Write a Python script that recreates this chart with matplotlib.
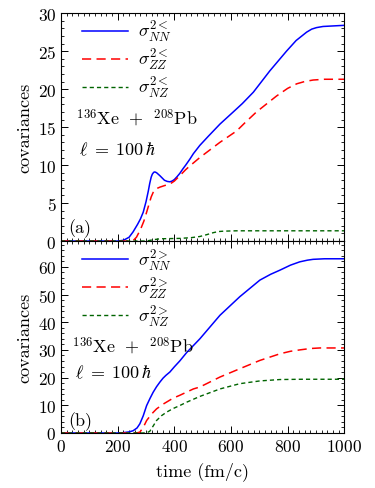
import matplotlib
matplotlib.use("Agg")
import matplotlib.pyplot as plt
from matplotlib.ticker import MultipleLocator

plt.rcParams["font.family"] = "serif"
plt.rcParams["font.serif"] = ["cmr10"]
plt.rcParams["mathtext.fontset"] = "cm"
plt.rcParams["axes.formatter.use_mathtext"] = True
plt.rcParams["font.size"] = 13
plt.rcParams["xtick.labelsize"] = 12.5
plt.rcParams["ytick.labelsize"] = 12.5

# panel (a): sigma^2< vs time
t_nn_a = [0, 200, 220, 240, 254, 270, 280, 290, 300, 308, 313, 318, 322, 327, 331, 337, 343, 349, 357,
          365, 375, 384, 392, 400, 410, 419, 430, 440, 455, 467, 490, 520, 561, 608, 640, 679, 737, 796,
          830, 867, 885, 902, 925, 950, 1000]
nn_a = [0, 0, 0.1, 0.5, 1.2, 2.2, 2.9, 3.8, 5.2, 6.6, 7.6, 8.4, 8.8, 9.05, 9.1, 9.0, 8.8, 8.6, 8.3,
        8.0, 7.85, 7.8, 7.9, 8.1, 8.5, 8.9, 9.5, 10.0, 10.8, 11.5, 12.6, 13.8, 15.4, 17.0, 18.1, 19.6,
        22.4, 25.0, 26.4, 27.5, 27.9, 28.1, 28.25, 28.3, 28.4]
t_zz_a = [0, 250, 258, 266, 280, 292, 302, 310, 318, 325, 333, 340, 349, 365, 384, 400, 419, 440, 455,
          490, 561, 620, 650, 690, 761, 800, 832, 860, 890, 930, 1000]
zz_a = [0, 0, 0.2, 0.5, 1.5, 2.6, 3.8, 4.8, 5.8, 6.4, 6.8, 6.95, 7.1, 7.3, 7.5, 7.9, 8.6, 9.4, 9.9,
        11.0, 13.0, 14.5, 15.6, 17.0, 19.1, 20.1, 20.7, 21.0, 21.2, 21.3, 21.3]
t_nz_a = [0, 300, 330, 350, 419, 460, 490, 515, 537, 555, 573, 600, 620, 1000]
nz_a = [0, 0, 0.2, 0.3, 0.35, 0.45, 0.6, 0.85, 1.1, 1.25, 1.3, 1.33, 1.35, 1.35]

# panel (b): sigma^2> vs time
t_nn_b = [0, 200, 219, 240, 254, 268, 278, 290, 302, 314, 325, 337, 349, 360, 370, 384, 400, 419, 443,
          490, 561, 631, 702, 740, 773, 810, 843, 870, 890, 930, 1000]
nn_b = [0, 0, 0.1, 0.4, 0.8, 1.8, 3.3, 6.2, 9.9, 12.5, 14.7, 16.7, 18.4, 19.8, 20.8, 22.0, 23.9, 26.0,
        29.0, 34.0, 42.5, 49.2, 55.2, 57.3, 58.8, 60.6, 61.8, 62.4, 62.7, 62.9, 62.9]
t_zz_b = [0, 260, 270, 278, 290, 302, 320, 337, 360, 396, 419, 467, 490, 561, 631, 702, 773, 810, 843,
          880, 914, 1000]
zz_b = [0, 0, 0.1, 0.3, 2.0, 4.5, 6.9, 8.7, 10.4, 12.6, 13.6, 15.9, 16.6, 20.2, 23.2, 26.2, 28.6, 29.5,
        30.0, 30.5, 30.7, 30.7]
t_nz_b = [0, 290, 305, 313, 325, 337, 354, 372, 395, 419, 443, 490, 561, 631, 702, 773, 850, 1000]
nz_b = [0, 0, 0.2, 0.6, 2.5, 4.5, 6.2, 7.5, 8.8, 9.9, 11.1, 13.2, 15.9, 17.8, 18.8, 19.3, 19.4, 19.4]

fig = plt.figure(figsize=(3.75, 4.89), dpi=100)
ax1 = fig.add_axes([0.163, 0.505, 0.755, 0.466])
ax2 = fig.add_axes([0.163, 0.1125, 0.755, 0.3925])


def style_axis(ax, major, minor):
    ax.set_xlim(0, 1000)
    ax.xaxis.set_major_locator(MultipleLocator(200))
    ax.xaxis.set_minor_locator(MultipleLocator(20))
    ax.yaxis.set_major_locator(MultipleLocator(major))
    ax.yaxis.set_minor_locator(MultipleLocator(minor))
    ax.tick_params(which="both", direction="in", top=True, right=True)
    ax.tick_params(which="major", length=5, width=0.7)
    ax.tick_params(which="minor", length=2.5, width=0.6)
    for s in ax.spines.values():
        s.set_linewidth(0.8)
    ax.set_ylabel("covariances", labelpad=4)


def draw(ax, sup, data, anchor_y):
    (tn, n), (tz, z), (tx, x) = data
    ax.plot(tn, n, color="#0000ff", lw=1.1, label=r"$\sigma^{2%s}_{NN}$" % sup)
    ax.plot(tz, z, color="#ff0000", lw=1.1, ls=(0, (6, 3.5)), label=r"$\sigma^{2%s}_{ZZ}$" % sup)
    ax.plot(tx, x, color="#006400", lw=1.0, ls=(0, (3, 2.2)), label=r"$\sigma^{2%s}_{NZ}$" % sup)
    ax.legend(loc="upper left", frameon=False, handlelength=2.6, labelspacing=0.16,
              borderpad=0, borderaxespad=0, handletextpad=0.55,
              bbox_to_anchor=(0.072, anchor_y))


xe_label = r"$^{136}\mathrm{Xe}\;\,+\;\,^{208}\mathrm{Pb}$"
ell_label = r"$\ell\;=\;100\,\hbar$"

draw(ax1, "<", [(t_nn_a, nn_a), (t_zz_a, zz_a), (t_nz_a, nz_a)], 0.974)
style_axis(ax1, 5, 1)
ax1.set_ylim(0, 30)
ax1.tick_params(labelbottom=False)
ax1.text(0.054, 0.544, xe_label, transform=ax1.transAxes, va="center")
ax1.text(0.063, 0.404, ell_label, transform=ax1.transAxes, va="center")
ax1.text(0.025, 0.057, "(a)", transform=ax1.transAxes, va="center")

draw(ax2, ">", [(t_nn_b, nn_b), (t_zz_b, zz_b), (t_nz_b, nz_b)], 0.966)
style_axis(ax2, 10, 2)
ax2.set_ylim(0, 69.3)
ax2.set_xlabel("time (fm/c)", labelpad=5)
ax2.text(0.037, 0.455, xe_label, transform=ax2.transAxes, va="center")
ax2.text(0.048, 0.318, ell_label, transform=ax2.transAxes, va="center")
ax2.text(0.025, 0.063, "(b)", transform=ax2.transAxes, va="center")

fig.savefig("out.png", dpi=100)
